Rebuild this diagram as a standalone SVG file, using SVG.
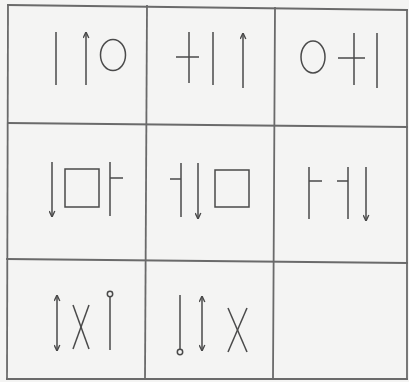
<svg xmlns="http://www.w3.org/2000/svg" width="409" height="382" viewBox="0 0 409 382">
<defs>
<style>
.g{stroke:#6a6a6a;stroke-width:1.8;fill:none;stroke-linecap:square}
.s{stroke:#4a4a4a;stroke-width:1.5;fill:none}
.a{marker-end:url(#ah)}
.d{marker-start:url(#ah);marker-end:url(#ah)}
</style>
<marker id="ah" viewBox="0 0 10 10" refX="9.5" refY="5" markerWidth="7" markerHeight="7" orient="auto-start-reverse" markerUnits="userSpaceOnUse">
<path d="M1,1 L9.5,5 L1,9" fill="none" stroke="#4a4a4a" stroke-width="2"/>
</marker>
</defs>
<rect width="409" height="382" fill="#f4f4f3"/>
<g id="grid" class="g">
<line x1="8" y1="5" x2="407" y2="10"/>
<line x1="8" y1="123" x2="407" y2="127"/>
<line x1="7" y1="259" x2="407" y2="263"/>
<line x1="7" y1="379" x2="407" y2="379"/>
<line x1="8" y1="5" x2="7" y2="379"/>
<line x1="147" y1="6" x2="145" y2="379"/>
<line x1="275" y1="8" x2="273" y2="379"/>
<line x1="407" y1="10" x2="407" y2="379"/>
</g>
<g id="cell-1-1" class="s">
<line x1="56" y1="32" x2="56" y2="85"/>
<line class="a" x1="86" y1="85" x2="86" y2="32"/>
<ellipse cx="113" cy="55" rx="12.5" ry="15.5"/>
</g>
<g id="cell-1-2" class="s">
<line x1="176" y1="57" x2="199" y2="57"/>
<line x1="189" y1="32" x2="189" y2="83"/>
<line x1="213" y1="32" x2="213" y2="85"/>
<line class="a" x1="243" y1="88" x2="243" y2="33"/>
</g>
<g id="cell-1-3" class="s">
<ellipse cx="313" cy="57" rx="12" ry="16"/>
<line x1="338" y1="58" x2="365" y2="58"/>
<line x1="354" y1="33" x2="354" y2="85"/>
<line x1="377" y1="33" x2="377" y2="88"/>
</g>
<g id="cell-2-1" class="s">
<line class="a" x1="52" y1="162" x2="52" y2="217"/>
<rect x="65" y="169" width="34" height="38"/>
<line x1="110" y1="162" x2="110" y2="216"/>
<line x1="110" y1="178" x2="123" y2="178"/>
</g>
<g id="cell-2-2" class="s">
<line x1="181" y1="163" x2="181" y2="217"/>
<line x1="170" y1="179" x2="181" y2="179"/>
<line class="a" x1="198" y1="163" x2="198" y2="219"/>
<rect x="215" y="170" width="34" height="37"/>
</g>
<g id="cell-2-3" class="s">
<line x1="309" y1="167" x2="309" y2="219"/>
<line x1="309" y1="181" x2="322" y2="181"/>
<line x1="348" y1="167" x2="348" y2="219"/>
<line x1="337" y1="181" x2="348" y2="181"/>
<line class="a" x1="366" y1="167" x2="366" y2="221"/>
</g>
<g id="cell-3-1" class="s">
<line class="d" x1="57" y1="295" x2="57" y2="351"/>
<line x1="73" y1="305" x2="89" y2="349"/>
<line x1="89" y1="305" x2="73" y2="349"/>
<line x1="110" y1="297" x2="110" y2="350"/>
<circle cx="110" cy="294" r="2.7"/>
</g>
<g id="cell-3-2" class="s">
<line x1="180" y1="295" x2="180" y2="349"/>
<circle cx="180" cy="352" r="2.7"/>
<line class="d" x1="202" y1="296" x2="202" y2="351"/>
<line x1="228" y1="308" x2="247" y2="352"/>
<line x1="247" y1="308" x2="228" y2="352"/>
</g>
<g id="cell-3-3"/>
</svg>
